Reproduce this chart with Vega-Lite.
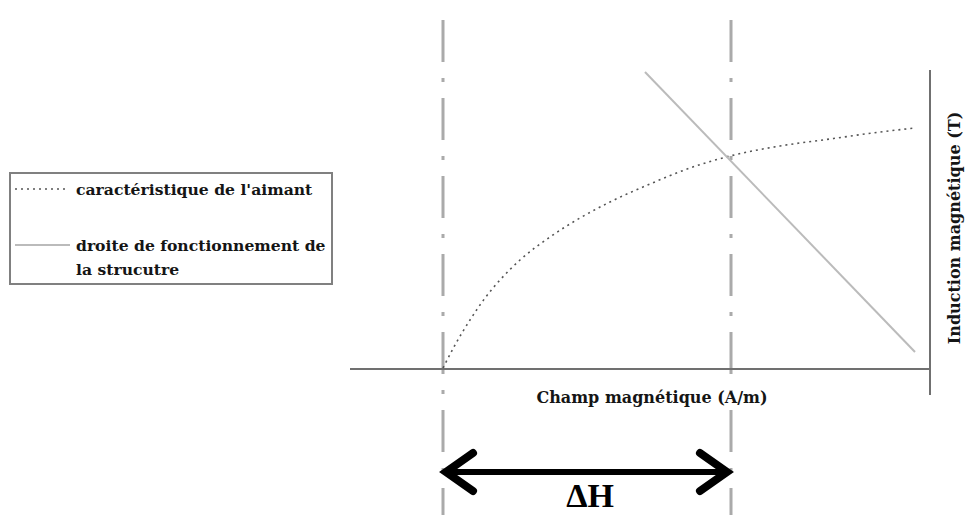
{
  "$schema": "https://vega.github.io/schema/vega-lite/v6.json",
  "width": 975,
  "height": 515,
  "padding": 0,
  "autosize": {"type": "none"},
  "background": "white",
  "config": {"view": {"stroke": null}},
  "datasets": {
    "guides": [{"h": 443, "b0": 20, "b1": 515}, {"h": 731, "b0": 20, "b1": 515}],
    "axes": [
      {"h0": 350, "h1": 930, "b0": 369, "b1": 369},
      {"h0": 930, "h1": 930, "b0": 70, "b1": 395}
    ],
    "magnet": [
      {"h": 443, "b": 368}, {"h": 455, "b": 345}, {"h": 470, "b": 320}, {"h": 485, "b": 298},
      {"h": 500, "b": 280}, {"h": 520, "b": 260}, {"h": 550, "b": 237}, {"h": 580, "b": 218},
      {"h": 610, "b": 202}, {"h": 650, "b": 184}, {"h": 690, "b": 168}, {"h": 730, "b": 156},
      {"h": 780, "b": 146}, {"h": 830, "b": 139}, {"h": 880, "b": 132}, {"h": 915, "b": 128}
    ],
    "load": [{"h": 645, "b": 72}, {"h": 915, "b": 352}],
    "arrowHeads": [
      {"g": "L", "i": 0, "h": 473, "b": 453}, {"g": "L", "i": 1, "h": 446, "b": 472}, {"g": "L", "i": 2, "h": 473, "b": 491},
      {"g": "R", "i": 0, "h": 700, "b": 453}, {"g": "R", "i": 1, "h": 727, "b": 472}, {"g": "R", "i": 2, "h": 700, "b": 491}
    ],
    "labels": [
      {"t": "Champ magnétique (A/m)", "h": 652, "b": 398, "a": 0},
      {"t": "Induction magnétique (T)", "h": 955, "b": 228, "a": 270}
    ],
    "legendText": [
      {"t": "caractéristique de l'aimant", "h": 76, "b": 190},
      {"t": "droite de fonctionnement de", "h": 76, "b": 246},
      {"t": "la strucutre", "h": 76, "b": 270}
    ]
  },
  "layer": [
    {
      "data": {"values": [{"h0": 10, "h1": 332, "b0": 173, "b1": 284}]},
      "mark": {"type": "rect", "fill": "white", "stroke": "#808080", "strokeWidth": 2},
      "encoding": {
        "x": {"field": "h0", "type": "quantitative", "scale": {"domain": [0, 975]}, "axis": null},
        "x2": {"field": "h1"},
        "y": {"field": "b0", "type": "quantitative", "scale": {"domain": [0, 515], "reverse": true}, "axis": null},
        "y2": {"field": "b1"}
      }
    },
    {
      "data": {"values": [{"h0": 15, "h1": 68, "b": 189}]},
      "mark": {"type": "rule", "color": "#555555", "strokeWidth": 1.5, "strokeDash": [2, 4]},
      "encoding": {
        "x": {"field": "h0", "type": "quantitative", "scale": {"domain": [0, 975]}, "axis": null},
        "x2": {"field": "h1"},
        "y": {"field": "b", "type": "quantitative", "scale": {"domain": [0, 515], "reverse": true}, "axis": null}
      }
    },
    {
      "data": {"values": [{"h0": 15, "h1": 70, "b": 245}]},
      "mark": {"type": "rule", "color": "#bbbbbb", "strokeWidth": 2},
      "encoding": {
        "x": {"field": "h0", "type": "quantitative", "scale": {"domain": [0, 975]}, "axis": null},
        "x2": {"field": "h1"},
        "y": {"field": "b", "type": "quantitative", "scale": {"domain": [0, 515], "reverse": true}, "axis": null}
      }
    },
    {
      "data": {"name": "legendText"},
      "mark": {"type": "text", "align": "left", "baseline": "middle", "font": "DejaVu Serif", "fontWeight": "bold", "fontSize": 15.6, "color": "#151515"},
      "encoding": {
        "x": {"field": "h", "type": "quantitative", "scale": {"domain": [0, 975]}, "axis": null},
        "y": {"field": "b", "type": "quantitative", "scale": {"domain": [0, 515], "reverse": true}, "axis": null},
        "text": {"field": "t"}
      }
    },
    {
      "data": {"name": "guides"},
      "mark": {"type": "rule", "color": "#aaaaaa", "strokeWidth": 3, "strokeDash": [42, 16, 4, 16]},
      "encoding": {
        "x": {"field": "h", "type": "quantitative", "scale": {"domain": [0, 975]}, "axis": null},
        "y": {"field": "b0", "type": "quantitative", "scale": {"domain": [0, 515], "reverse": true}, "axis": null},
        "y2": {"field": "b1"}
      }
    },
    {
      "data": {"name": "axes"},
      "mark": {"type": "rule", "color": "#707070", "strokeWidth": 2},
      "encoding": {
        "x": {"field": "h0", "type": "quantitative", "scale": {"domain": [0, 975]}, "axis": null},
        "x2": {"field": "h1"},
        "y": {"field": "b0", "type": "quantitative", "scale": {"domain": [0, 515], "reverse": true}, "axis": null},
        "y2": {"field": "b1"}
      }
    },
    {
      "data": {"name": "magnet"},
      "mark": {"type": "line", "color": "#555555", "strokeWidth": 1.6, "strokeDash": [2, 4], "interpolate": "monotone"},
      "encoding": {
        "x": {"field": "h", "type": "quantitative", "scale": {"domain": [0, 975]}, "axis": null},
        "y": {"field": "b", "type": "quantitative", "scale": {"domain": [0, 515], "reverse": true}, "axis": null}
      }
    },
    {
      "data": {"name": "load"},
      "mark": {"type": "line", "color": "#bbbbbb", "strokeWidth": 2},
      "encoding": {
        "x": {"field": "h", "type": "quantitative", "scale": {"domain": [0, 975]}, "axis": null},
        "y": {"field": "b", "type": "quantitative", "scale": {"domain": [0, 515], "reverse": true}, "axis": null}
      }
    },
    {
      "data": {"values": [{"h0": 450, "h1": 724, "b": 472}]},
      "mark": {"type": "rule", "color": "black", "strokeWidth": 6},
      "encoding": {
        "x": {"field": "h0", "type": "quantitative", "scale": {"domain": [0, 975]}, "axis": null},
        "x2": {"field": "h1"},
        "y": {"field": "b", "type": "quantitative", "scale": {"domain": [0, 515], "reverse": true}, "axis": null}
      }
    },
    {
      "data": {"name": "arrowHeads"},
      "mark": {"type": "line", "color": "black", "strokeWidth": 8, "strokeCap": "round", "strokeJoin": "miter"},
      "encoding": {
        "x": {"field": "h", "type": "quantitative", "scale": {"domain": [0, 975]}, "axis": null},
        "y": {"field": "b", "type": "quantitative", "scale": {"domain": [0, 515], "reverse": true}, "axis": null},
        "detail": {"field": "g"},
        "order": {"field": "i"}
      }
    },
    {
      "data": {"name": "labels"},
      "mark": {"type": "text", "align": "center", "baseline": "middle", "font": "DejaVu Serif", "fontWeight": "bold", "fontSize": 16, "color": "#151515"},
      "encoding": {
        "x": {"field": "h", "type": "quantitative", "scale": {"domain": [0, 975]}, "axis": null},
        "y": {"field": "b", "type": "quantitative", "scale": {"domain": [0, 515], "reverse": true}, "axis": null},
        "text": {"field": "t"},
        "angle": {"field": "a", "type": "quantitative", "scale": null}
      }
    },
    {
      "data": {"values": [{"t": "ΔH", "h": 590, "b": 514}]},
      "mark": {"type": "text", "align": "center", "baseline": "bottom", "font": "Liberation Serif", "fontWeight": "bold", "fontSize": 34, "color": "black"},
      "encoding": {
        "x": {"field": "h", "type": "quantitative", "scale": {"domain": [0, 975]}, "axis": null},
        "y": {"field": "b", "type": "quantitative", "scale": {"domain": [0, 515], "reverse": true}, "axis": null},
        "text": {"field": "t"}
      }
    }
  ]
}
